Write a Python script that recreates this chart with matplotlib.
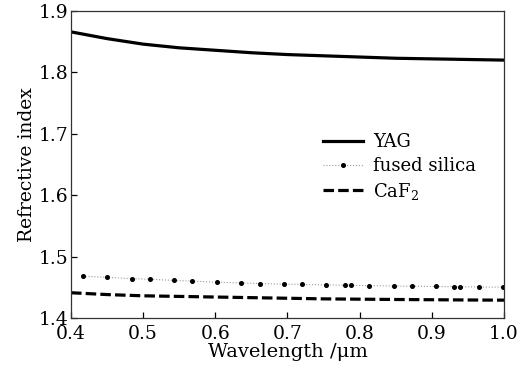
import numpy as np
import matplotlib
matplotlib.use('Agg')
import matplotlib.pyplot as plt
from matplotlib import rcParams

rcParams['font.family'] = 'serif'
rcParams['font.serif'] = ['DejaVu Serif']
rcParams['mathtext.fontset'] = 'dejavuserif'

# wavelength (um) and refractive index
wl = [0.40, 0.45, 0.50, 0.55, 0.60, 0.65, 0.70, 0.75, 0.80, 0.85, 0.90, 0.95, 1.00]
n_yag = [1.866, 1.855, 1.846, 1.840, 1.836, 1.832, 1.829, 1.827, 1.825, 1.823, 1.822, 1.821, 1.820]
n_caf2 = [1.441, 1.438, 1.436, 1.435, 1.434, 1.433, 1.432, 1.431, 1.4305, 1.430, 1.4296, 1.4292, 1.4289]

# fused silica sampled points (markers)
wl_fs = [0.416, 0.450, 0.484, 0.510, 0.543, 0.568, 0.602, 0.636, 0.662, 0.695,
         0.720, 0.754, 0.780, 0.788, 0.813, 0.847, 0.872, 0.906, 0.931, 0.939,
         0.965, 0.999]
n_fs = [1.468, 1.466, 1.464, 1.463, 1.461, 1.460, 1.458, 1.457, 1.456, 1.455,
        1.4545, 1.4538, 1.4532, 1.4530, 1.4526, 1.4520, 1.4516, 1.4512, 1.4508, 1.4507,
        1.4504, 1.4500]

fig = plt.figure(figsize=(5.22, 3.74), dpi=100)
ax = fig.add_axes([0.136, 0.150, 0.8295, 0.8206])

ax.plot(wl, n_yag, '-', color='k', lw=2.3, label='YAG')
ax.plot(wl_fs, n_fs, linestyle=':', color='#999999', lw=0.8,
        marker='o', ms=2.6, mfc='k', mec='k', label='fused silica')
ax.plot(wl, n_caf2, color='k', lw=2.3, dashes=(3.3, 1.3), label='CaF$_2$')

ax.set_xlim(0.4, 1.0)
ax.set_ylim(1.4, 1.9)
ax.set_xticks(np.arange(0.4, 1.01, 0.1))
ax.set_yticks(np.arange(1.4, 1.91, 0.1))
ax.xaxis.set_major_formatter(matplotlib.ticker.FormatStrFormatter('%.1f'))
ax.yaxis.set_major_formatter(matplotlib.ticker.FormatStrFormatter('%.1f'))
ax.tick_params(direction='in', length=4, width=0.9, labelsize=13.5)
ax.tick_params(axis='x', pad=5)
ax.tick_params(axis='y', pad=2)
for s in ax.spines.values():
    s.set_linewidth(0.9)
    s.set_color('#333333')

ax.set_xlabel('Wavelength /μm', fontsize=14, labelpad=0)
ax.set_ylabel('Refrective index', fontsize=13.5, labelpad=2)

ax.legend(loc='center left', bbox_to_anchor=(0.545, 0.49), frameon=False,
          fontsize=13, handlelength=2.2, handletextpad=0.55, labelspacing=0.32)

plt.savefig('out.png', dpi=100)
